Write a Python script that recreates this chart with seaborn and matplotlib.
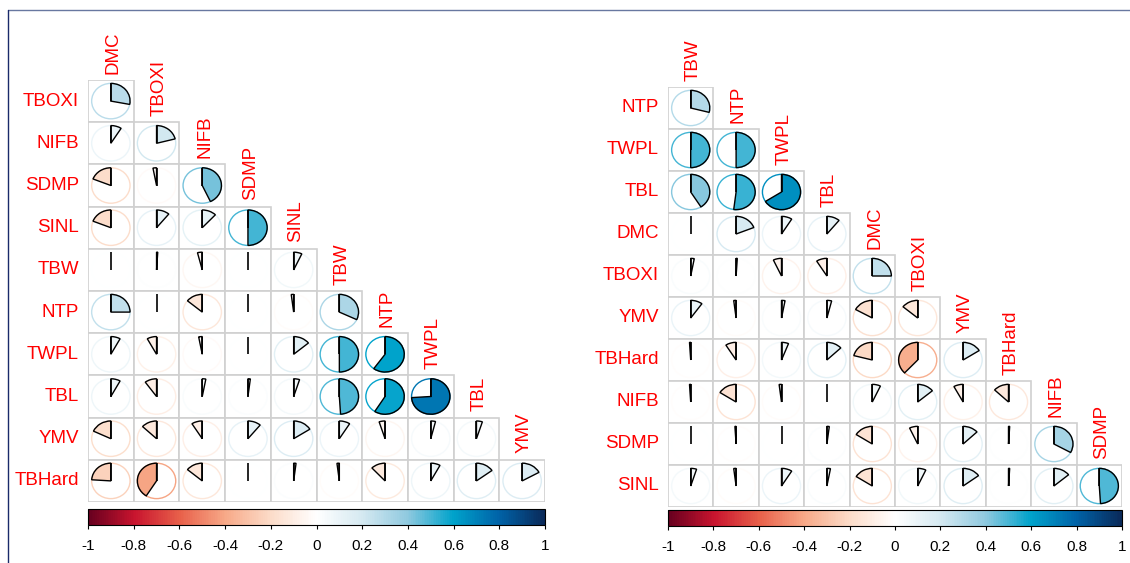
import numpy as np
import matplotlib
matplotlib.use("Agg")
import matplotlib.pyplot as plt
from matplotlib.patches import Wedge, Ellipse, Rectangle
import matplotlib.lines as mlines
import seaborn as sns

# lower-triangle correlations
# left panel: original variable order
left_vars = ["DMC", "TBOXI", "NIFB", "SDMP", "SINL", "TBW", "NTP", "TWPL", "TBL", "YMV", "TBHard"]
left_TBOXI = [0.28]
left_NIFB = [0.09, 0.21]
left_SDMP = [-0.19, -0.03, 0.43]
left_SINL = [-0.19, 0.11, 0.12, 0.50]
left_TBW = [0.00, 0.01, -0.04, 0.00, 0.07]
left_NTP = [0.25, 0.00, -0.14, 0.00, -0.02, 0.32]
left_TWPL = [0.08, -0.08, -0.03, 0.00, 0.14, 0.50, 0.60]
left_TBL = [0.08, -0.10, 0.03, 0.02, 0.05, 0.49, 0.59, 0.74]
left_YMV = [-0.18, -0.13, -0.09, 0.11, 0.16, 0.09, -0.05, 0.04, 0.05]
left_TBHard = [-0.24, -0.41, -0.14, 0.00, 0.02, -0.02, -0.12, 0.08, 0.15, 0.17]

# right panel: clustered order
right_vars = ["TBW", "NTP", "TWPL", "TBL", "DMC", "TBOXI", "YMV", "TBHard", "NIFB", "SDMP", "SINL"]
right_NTP = [0.29]
right_TWPL = [0.50, 0.50]
right_TBL = [0.41, 0.52, 0.66]
right_DMC = [0.00, 0.19, 0.09, 0.11]
right_TBOXI = [0.03, 0.01, -0.07, -0.09, 0.25]
right_YMV = [0.10, -0.02, 0.03, 0.04, -0.17, -0.14]
right_TBHard = [-0.01, -0.09, 0.06, 0.13, -0.21, -0.38, 0.16]
right_NIFB = [-0.01, -0.16, -0.02, 0.00, 0.07, 0.14, -0.08, -0.13]
right_SDMP = [0.00, -0.01, 0.00, 0.02, -0.16, -0.07, 0.13, 0.01, 0.33]
right_SINL = [0.05, -0.02, 0.09, 0.03, -0.16, 0.07, 0.15, 0.01, 0.14, 0.49]

left_rows = [left_TBOXI, left_NIFB, left_SDMP, left_SINL, left_TBW, left_NTP,
             left_TWPL, left_TBL, left_YMV, left_TBHard]
right_rows = [right_NTP, right_TWPL, right_TBL, right_DMC, right_TBOXI, right_YMV,
              right_TBHard, right_NIFB, right_SDMP, right_SINL]

cbar_ticks = [-1, -0.8, -0.6, -0.4, -0.2, 0, 0.2, 0.4, 0.6, 0.8, 1]
cbar_labels = ["-1", "-0.8", "-0.6", "-0.4", "-0.2", "0", "0.2", "0.4", "0.6", "0.8", "1"]

sns.set_theme(style="white")
plt.rcParams['font.family'] = ['Liberation Sans', 'DejaVu Sans']

cmap = sns.blend_palette(["#67001F", "#C8142E", "#E8604A", "#F7A988", "#FCDCC9", "#FFFFFF",
                          "#D5E9F1", "#8FC9DF", "#00A3CB", "#0063A8", "#0A2A5A"], as_cmap=True)
norm = matplotlib.colors.Normalize(-1, 1)

W, H = 1130, 563
fig = plt.figure(figsize=(W / 100, H / 100), dpi=100)


def px_axes(x0, y0, x1, y1):
    return fig.add_axes([x0 / W, 1 - y1 / H, (x1 - x0) / W, (y1 - y0) / H])


def draw_panel(box, cbox, names, rows):
    ax = px_axes(*box)
    n = len(rows)
    ax.set_xlim(0, n)
    ax.set_ylim(0, n)
    ax.axis("off")
    r = 0.42
    for i, vals in enumerate(rows):
        yc = n - i - 0.5
        for j, v in enumerate(vals):
            xc = j + 0.5
            col = cmap(norm(v))
            ax.add_patch(Rectangle((j, n - i - 1), 1, 1, fc="white", ec="#D0D0D0", lw=1.2, zorder=1))
            ax.add_patch(Ellipse((xc, yc), 2 * r, 2 * r, fc="white", ec=col, lw=1.0, zorder=2))
            ang = 360 * abs(v)
            if ang > 0.5:
                if v > 0:
                    t1, t2 = 90 - ang, 90
                else:
                    t1, t2 = 90, 90 + ang
                ax.add_patch(Wedge((xc, yc), r, t1, t2, fc=col, ec="black", lw=1.0, zorder=3))
            ax.plot([xc, xc], [yc, yc + r], color="black", lw=1.2, zorder=4, solid_capstyle="butt")
        ax.text(-0.2, yc, names[i + 1], ha="right", va="center", color="red", fontsize=13.5, clip_on=False)
    for j in range(n):
        ax.text(j + 0.55, n - j + 0.15, names[j], rotation=90, ha="center", va="bottom",
                color="red", fontsize=13.5, clip_on=False)

    cax = px_axes(*cbox)
    sm = matplotlib.cm.ScalarMappable(norm=norm, cmap=cmap)
    cb = fig.colorbar(sm, cax=cax, orientation="horizontal")
    cb.set_ticks(cbar_ticks)
    cb.set_ticklabels(cbar_labels)
    cb.outline.set_linewidth(0.8)
    cb.outline.set_edgecolor("black")
    cax.tick_params(axis="x", direction="out", length=3, width=0.8, labelsize=11, pad=7, colors="black")


draw_panel((88, 80, 545, 502), (88, 509, 545, 525), left_vars, left_rows)
draw_panel((668, 87, 1122, 507), (668, 510, 1122, 526), right_vars, right_rows)

# page frame lines
fig.add_artist(mlines.Line2D([8 / W, 1], [1 - 10 / H, 1 - 10 / H], color="#6878A0", lw=1.0))
fig.add_artist(mlines.Line2D([8 / W, 8 / W], [1 - 10 / H, 0], color="#1A2A6A", lw=1.0))

fig.savefig("out.png", dpi=100)
